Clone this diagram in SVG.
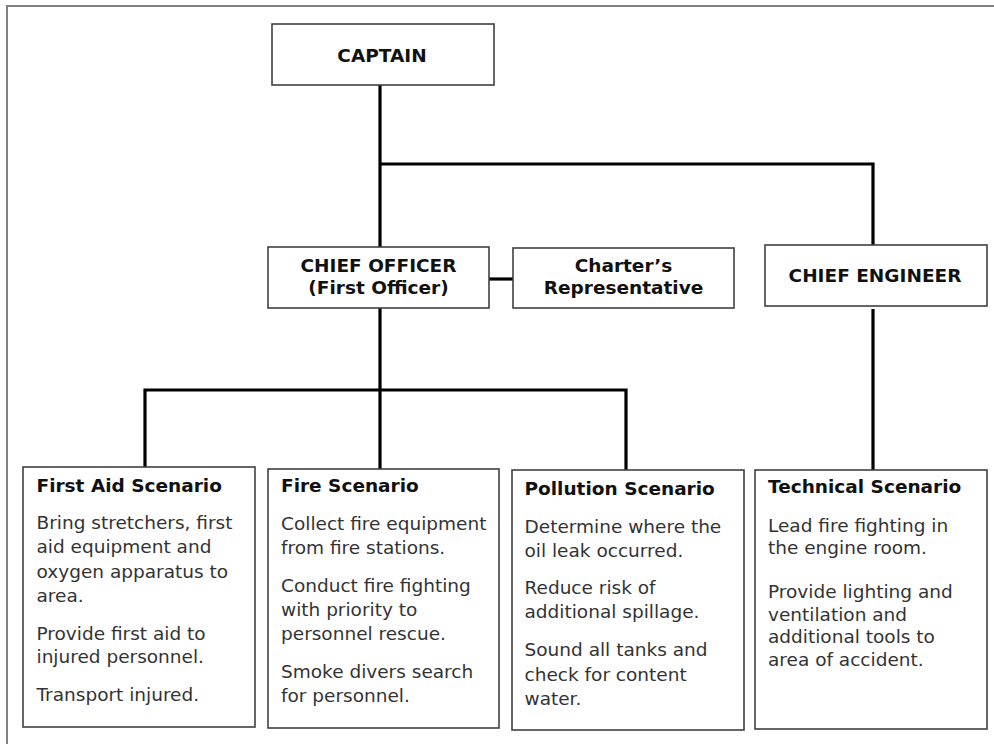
<svg xmlns="http://www.w3.org/2000/svg" width="994" height="744" viewBox="0 0 994 744">
<style>
.box{fill:#fff;stroke:#404040;stroke-width:1.6}
.ln{fill:none;stroke:#000;stroke-width:3.2}
.frame{fill:none;stroke:#808080;stroke-width:2}
.hd{font-family:"DejaVu Sans",Verdana,sans-serif;font-weight:bold;font-size:18.5px;fill:#111}
.c{text-anchor:middle}
.bd{font-family:"DejaVu Sans",Verdana,sans-serif;font-size:18.5px;fill:#333}
</style>
<rect width="994" height="744" fill="#fff"/>
<path class="frame" d="M7,744 V6 H994"/>
<g id="connectors">
<path class="ln" d="M380,85 V247"/>
<path class="ln" d="M380,164 H873 V245"/>
<path class="ln" d="M489,279 H513"/>
<path class="ln" d="M380,308 V469"/>
<path class="ln" d="M145,467 V390 H626 V470"/>
<path class="ln" d="M873,309 V470"/>
</g>
<g id="captain">
<rect class="box" x="272" y="24" width="222" height="61"/>
<text class="hd c" x="382" y="62">CAPTAIN</text>
</g>
<g id="chief-officer">
<rect class="box" x="268" y="247" width="221" height="61"/>
<text class="hd c" x="378.5" y="272">CHIEF OFFICER</text>
<text class="hd c" x="378.5" y="294">(First Officer)</text>
</g>
<g id="charters-rep">
<rect class="box" x="513" y="248" width="221" height="60"/>
<text class="hd c" x="623.5" y="272">Charter’s</text>
<text class="hd c" x="623.5" y="294">Representative</text>
</g>
<g id="chief-engineer">
<rect class="box" x="765" y="245" width="222" height="61"/>
<text class="hd c" x="875" y="282">CHIEF ENGINEER</text>
</g>
<g id="first-aid">
<rect class="box" x="23" y="467" width="232" height="260"/>
<text class="hd" x="36.5" y="492">First Aid Scenario</text>
<text class="bd" x="36.5" y="529">Bring stretchers, first</text>
<text class="bd" x="36.5" y="553">aid equipment and</text>
<text class="bd" x="36.5" y="578">oxygen apparatus to</text>
<text class="bd" x="36.5" y="602">area.</text>
<text class="bd" x="36.5" y="640">Provide first aid to</text>
<text class="bd" x="36.5" y="663">injured personnel.</text>
<text class="bd" x="36.5" y="701">Transport injured.</text>
</g>
<g id="fire">
<rect class="box" x="268" y="469" width="231" height="259"/>
<text class="hd" x="281" y="492">Fire Scenario</text>
<text class="bd" x="281" y="530">Collect fire equipment</text>
<text class="bd" x="281" y="554">from fire stations.</text>
<text class="bd" x="281" y="592">Conduct fire fighting</text>
<text class="bd" x="281" y="616">with priority to</text>
<text class="bd" x="281" y="640">personnel rescue.</text>
<text class="bd" x="281" y="678">Smoke divers search</text>
<text class="bd" x="281" y="702">for personnel.</text>
</g>
<g id="pollution">
<rect class="box" x="512" y="470" width="232" height="260"/>
<text class="hd" x="524.5" y="495">Pollution Scenario</text>
<text class="bd" x="524.5" y="533">Determine where the</text>
<text class="bd" x="524.5" y="557">oil leak occurred.</text>
<text class="bd" x="524.5" y="594">Reduce risk of</text>
<text class="bd" x="524.5" y="618">additional spillage.</text>
<text class="bd" x="524.5" y="656">Sound all tanks and</text>
<text class="bd" x="524.5" y="681">check for content</text>
<text class="bd" x="524.5" y="705">water.</text>
</g>
<g id="technical">
<rect class="box" x="755" y="470" width="232" height="259"/>
<text class="hd" x="768" y="493">Technical Scenario</text>
<text class="bd" x="768" y="532">Lead fire fighting in</text>
<text class="bd" x="768" y="554">the engine room.</text>
<text class="bd" x="768" y="598">Provide lighting and</text>
<text class="bd" x="768" y="621">ventilation and</text>
<text class="bd" x="768" y="643">additional tools to</text>
<text class="bd" x="768" y="666">area of accident.</text>
</g>
</svg>
